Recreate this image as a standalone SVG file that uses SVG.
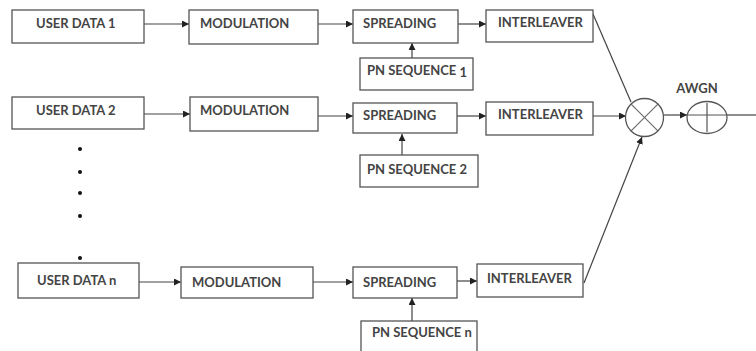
<svg xmlns="http://www.w3.org/2000/svg" width="756" height="351" viewBox="0 0 756 351">
<defs>
<marker id="ah" viewBox="0 0 10 10" refX="10" refY="5" markerWidth="7" markerHeight="7" markerUnits="userSpaceOnUse" orient="auto">
<path d="M0,0 L10,5 L0,10 z" fill="#222"/>
</marker>
<style>
.box{fill:#fff;stroke:#555;stroke-width:1.3}
.t{font-family:Lato,"Open Sans","Liberation Sans",sans-serif;font-size:13px;font-weight:bold;fill:#444}
.c{fill:none;stroke:#444;stroke-width:1.2}
.a{fill:none;stroke:#444;stroke-width:1.2;marker-end:url(#ah)}
.dot{fill:#111}
</style>
</defs>
<rect width="756" height="351" fill="#fff"/>
<g id="connectors">
<line class="a" x1="144" y1="24" x2="189" y2="24"/>
<line class="a" x1="318" y1="24" x2="353" y2="24"/>
<line class="a" x1="458" y1="24" x2="486" y2="24"/>
<line class="a" x1="412" y1="58" x2="412" y2="43"/>
<line class="a" x1="144" y1="114" x2="190" y2="114"/>
<line class="a" x1="318" y1="116" x2="353" y2="116"/>
<line class="a" x1="457" y1="116" x2="486" y2="116"/>
<line class="a" x1="402" y1="155" x2="402" y2="134"/>
<line class="a" x1="593" y1="116" x2="626" y2="116"/>
<line class="a" x1="663" y1="115" x2="687" y2="115"/>
<line class="c" x1="727" y1="115" x2="756" y2="115"/>
<line class="a" x1="139" y1="282" x2="181" y2="282"/>
<line class="a" x1="313" y1="282" x2="353" y2="282"/>
<line class="a" x1="457" y1="281" x2="477" y2="281"/>
<line class="a" x1="412" y1="321" x2="412" y2="298"/>
<line class="c" x1="593" y1="14" x2="631" y2="102"/>
<line class="a" x1="584" y1="283" x2="642" y2="137"/>
</g>
<g id="user1"><rect class="box" x="12" y="10" width="132" height="33"/><text class="t" x="36" y="28">USER DATA 1</text></g>
<g id="mod1"><rect class="box" x="189" y="10" width="129" height="34"/><text class="t" x="200" y="28">MODULATION</text></g>
<g id="spread1"><rect class="box" x="353" y="10" width="105" height="33"/><text class="t" x="363" y="28">SPREADING</text></g>
<g id="inter1"><rect class="box" x="486" y="10" width="107" height="32"/><text class="t" x="498" y="27">INTERLEAVER</text></g>
<g id="pn1"><rect class="box" x="360" y="58" width="113" height="32"/><text class="t" x="367" y="75">PN SEQUENCE <tspan dy="2">1</tspan></text></g>
<g id="user2"><rect class="box" x="12" y="97" width="132" height="32"/><text class="t" x="36" y="115">USER DATA 2</text></g>
<g id="mod2"><rect class="box" x="190" y="97" width="128" height="34"/><text class="t" x="200" y="115">MODULATION</text></g>
<g id="spread2"><rect class="box" x="353" y="103" width="104" height="30"/><text class="t" x="363" y="120">SPREADING</text></g>
<g id="inter2"><rect class="box" x="486" y="102" width="107" height="33"/><text class="t" x="498" y="119">INTERLEAVER</text></g>
<g id="pn2"><rect class="box" x="360" y="155" width="118" height="32"/><text class="t" x="367" y="174">PN SEQUENCE 2</text></g>
<g id="dots">
<circle class="dot" cx="80" cy="149" r="2"/>
<circle class="dot" cx="80" cy="172" r="2"/>
<circle class="dot" cx="80" cy="193" r="2"/>
<circle class="dot" cx="80" cy="216" r="2"/>
<circle class="dot" cx="80" cy="258" r="2"/>
</g>
<g id="usern"><rect class="box" x="18" y="263" width="121" height="35"/><text class="t" x="37" y="285">USER DATA n</text></g>
<g id="modn"><rect class="box" x="181" y="267" width="132" height="31"/><text class="t" x="192" y="287">MODULATION</text></g>
<g id="spreadn"><rect class="box" x="353" y="267" width="104" height="31"/><text class="t" x="363" y="287">SPREADING</text></g>
<g id="intern"><rect class="box" x="477" y="264" width="106" height="33"/><text class="t" x="487" y="283">INTERLEAVER</text></g>
<g id="pnn"><rect class="box" x="361" y="321" width="116" height="34"/><text class="t" x="372" y="337">PN SEQUENCE n</text></g>
<g id="mult">
<circle cx="644.5" cy="117.5" r="19" fill="#fff" stroke="#555" stroke-width="1.3"/>
<line x1="631.1" y1="104.1" x2="657.9" y2="130.9" stroke="#666" stroke-width="1.1"/>
<line x1="657.9" y1="104.1" x2="631.1" y2="130.9" stroke="#666" stroke-width="1.1"/>
</g>
<g id="awgn">
<ellipse cx="707" cy="117.5" rx="20" ry="16" fill="#fff" stroke="#555" stroke-width="1.3"/>
<line x1="687" y1="115" x2="727" y2="115" stroke="#555" stroke-width="1.2"/>
<line x1="707" y1="103" x2="707" y2="132" stroke="#555" stroke-width="1.2"/>
<text class="t" x="697" y="93" text-anchor="middle">AWGN</text>
</g>
</svg>
